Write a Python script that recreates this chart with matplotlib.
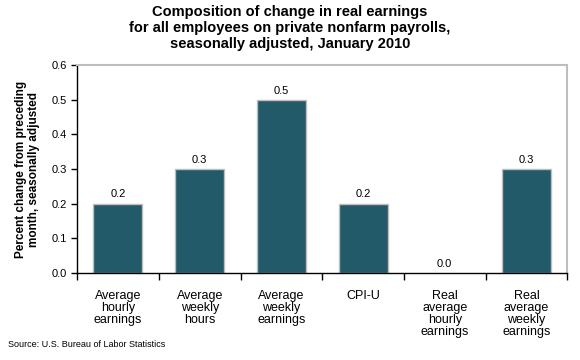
import numpy as np
import matplotlib
matplotlib.use('Agg')
import matplotlib.pyplot as plt

plt.rcParams['font.family'] = ['Liberation Sans', 'DejaVu Sans']

categories = ['Average\nhourly\nearnings', 'Average\nweekly\nhours', 'Average\nweekly\nearnings',
              'CPI-U', 'Real\naverage\nhourly\nearnings', 'Real\naverage\nweekly\nearnings']
values = [0.2, 0.3, 0.5, 0.2, 0.0, 0.3]
labels = ['0.2', '0.3', '0.5', '0.2', '0.0', '0.3']

fig = plt.figure(figsize=(5.8, 3.6), dpi=100)
ax = fig.add_axes([0.133, 0.242, 0.845, 0.577])

x = np.arange(len(categories))
# no outline on the zero bar, it is invisible in the original
edge_w = [1.0 if v != 0 else 0.0 for v in values]
ax.bar(x, values, width=0.6, color='#235A69', edgecolor='#BEBEBE', linewidth=edge_w, zorder=2)
for xi, v, lab in zip(x, values, labels):
    ax.text(xi, v + 0.012, lab, ha='center', va='bottom', fontsize=8)

ax.set_xlim(-0.5, len(categories) - 0.5)
ax.set_ylim(0, 0.6)
ax.set_yticks(np.arange(0, 0.61, 0.1))
ax.set_yticklabels(['%.1f' % t for t in np.arange(0, 0.61, 0.1)], fontsize=8)
ax.set_xticks(np.arange(-0.5, len(categories), 1.0))
ax.set_xticklabels([])
ax.set_xticks(x, minor=True)
ax.set_xticklabels(categories, minor=True, fontsize=9, va='top', linespacing=1.0)
ax.tick_params(axis='x', which='minor', length=0, pad=12)
ax.tick_params(axis='x', which='major', direction='out', length=5, width=1)
ax.tick_params(axis='y', direction='out', length=4, width=1)

for s in ['top', 'right']:
    ax.spines[s].set_color('#BEBEBE')
    ax.spines[s].set_linewidth(1.5)
for s in ['left', 'bottom']:
    ax.spines[s].set_color('black')
    ax.spines[s].set_linewidth(1.0)

ax.set_ylabel('Percent change from preceding\nmonth, seasonally adjusted', fontsize=8.5,
              fontweight='bold', labelpad=8, linespacing=1.1)

fig.suptitle('Composition of change in real earnings\nfor all employees on private nonfarm payrolls,\n'
             'seasonally adjusted, January 2010', fontsize=10.5, fontweight='bold',
             y=0.985, linespacing=1.15)
fig.text(0.014, 0.035, 'Source: U.S. Bureau of Labor Statistics', fontsize=6.5)

fig.savefig('out.png', dpi=100)
